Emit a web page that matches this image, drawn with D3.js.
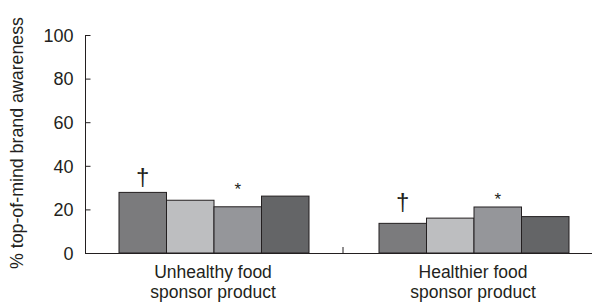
<!DOCTYPE html>
<html>
<head>
<meta charset="utf-8">
<script src="https://cdn.jsdelivr.net/npm/d3@7"></script>
<style>
  html, body { margin: 0; padding: 0; background: #fff; }
  text { font-family: 'Liberation Sans', Arial, sans-serif; fill: #231f20; }
</style>
</head>
<body>
<div id="chart"></div>
<script>
// ── Dados ──
const grupos = ['Unhealthy food|sponsor product', 'Healthier food|sponsor product'];
const series = ['s1', 's2', 's3', 's4'];
const coresSeries = ['#7b7b7d', '#bdbec0', '#95969a', '#646567'];
const valoresUnhealthy = [27.8, 24.2, 21.2, 26.1];
const valoresHealthier = [13.6, 16.0, 21.1, 16.7];
const marcas = [['†', '', '*', ''], ['†', '', '*', '']];
// distância (px) entre topo da barra e a base do símbolo
const folgaMarcas = [[7, 0, 12, 0], [13, 0, 2, 0]];
const ticksY = [0, 20, 40, 60, 80, 100];

const W = 592, H = 305;
const svg = d3.select('#chart').append('svg').attr('width', W).attr('height', H);

const x = d3.scaleBand().domain(grupos).range([84, 604]);
const xi = d3.scaleBand().domain(series).range([35, 225]);
const y = d3.scaleLinear().domain([0, 100]).range([253, 35]);

const dados = [valoresUnhealthy, valoresHealthier];

// ── Barras ──
grupos.forEach((gName, gi) => {
  const g = svg.append('g').attr('transform', `translate(${x(gName)},0)`);
  g.selectAll('rect')
    .data(dados[gi])
    .enter()
    .append('rect')
    .attr('x', (d, i) => xi(series[i]))
    .attr('y', d => y(d))
    .attr('width', xi.bandwidth())
    .attr('height', d => y(0) - y(d))
    .attr('fill', (d, i) => coresSeries[i])
    .attr('stroke', '#231f20')
    .attr('stroke-width', 1);

  g.selectAll('text.marca')
    .data(dados[gi])
    .enter()
    .append('text')
    .attr('class', 'marca')
    .attr('x', (d, i) => xi(series[i]) + xi.bandwidth() / 2)
    .attr('y', (d, i) => y(d) - folgaMarcas[gi][i])
    .attr('text-anchor', 'middle')
    .style('fill', '#231f20')
    .style('font-size', (d, i) => marcas[gi][i] === '†' ? '24px' : '17px')
    .text((d, i) => marcas[gi][i]);

  const lab = g.append('text')
    .attr('x', x.bandwidth() / 2 - 1)
    .attr('y', 278)
    .attr('text-anchor', 'middle')
    .style('font-size', '17.5px');
  gName.split('|').forEach((t, k) => {
    lab.append('tspan').attr('x', x.bandwidth() / 2 - 1).attr('dy', k ? 20 : 0).text(t);
  });
});

// ── Eixo Y ──
const eixoY = d3.axisRight(y).tickValues(ticksY).tickSize(5).tickFormat(d => d);
const gy = svg.append('g').attr('transform', 'translate(85.5,0)').call(eixoY);
gy.select('.domain').attr('stroke', '#231f20').attr('d', `M0,${y(100)}V${y(0)}`);
gy.selectAll('.tick line').attr('stroke', '#231f20');
gy.selectAll('.tick text')
  .attr('x', -12)
  .attr('dy', '0.35em')
  .attr('text-anchor', 'end')
  .style('font-size', '18px')
  .style('fill', '#231f20');

// ── Eixo X ──
svg.append('line')
  .attr('x1', 85).attr('x2', W)
  .attr('y1', y(0) + 0.5).attr('y2', y(0) + 0.5)
  .attr('stroke', '#231f20').attr('stroke-width', 1.2);
svg.append('line')
  .attr('x1', x(grupos[1]) - 1).attr('x2', x(grupos[1]) - 1)
  .attr('y1', y(0)).attr('y2', y(0) - 6)
  .attr('stroke', '#231f20');

// ── Título do eixo Y ──
svg.append('text')
  .attr('transform', 'translate(23,143) rotate(-90)')
  .attr('text-anchor', 'middle')
  .style('font-size', '17.8px')
  .text('% top-of-mind brand awareness');
</script>
</body>
</html>
